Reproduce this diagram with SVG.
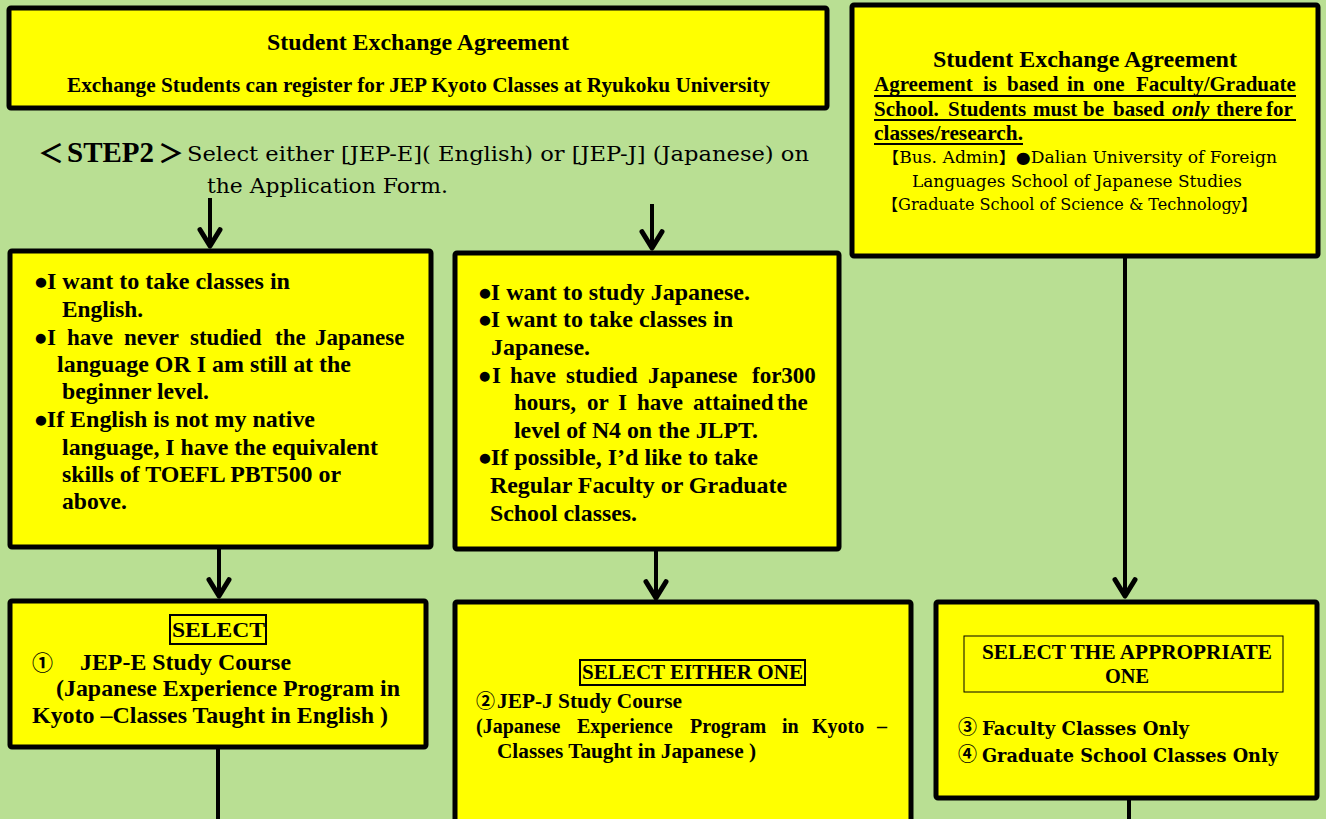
<svg xmlns="http://www.w3.org/2000/svg" width="1326" height="819" viewBox="0 0 1326 819">
<style>
.box{fill:#FFFF00;stroke:#000;stroke-width:5;stroke-linejoin:round}
.ibox{fill:none;stroke:#000;stroke-width:2}
.ibox1{fill:none;stroke:#000;stroke-width:1}
.b{font-family:"Liberation Serif",serif;font-weight:bold;fill:#000}
.c{font-family:"DejaVu Serif","Noto Sans CJK JP",serif;fill:#000}
.cj{font-family:"Noto Sans CJK JP",sans-serif;fill:#000}
.bul{font-family:"DejaVu Sans",sans-serif;font-size:13px;baseline-shift:3px}
.ul{stroke:#000;stroke-width:1.8}
.con{stroke:#000;stroke-width:4;fill:none}
</style>
<defs>
<marker id="ah" markerUnits="userSpaceOnUse" markerWidth="30" markerHeight="30" refX="0" refY="0" viewBox="-16 -12 20 24" orient="auto" overflow="visible">
<path d="M-13,-8 L0,0 L-13,8" fill="none" stroke="#000" stroke-width="4" stroke-linecap="round" stroke-linejoin="round"/>
</marker>
</defs>
<rect width="1326" height="819" fill="#B9DF93"/>

<g id="connectors">
<line class="con" x1="210" y1="198" x2="210" y2="246" marker-end="url(#ah)"/>
<line class="con" x1="652" y1="204" x2="652" y2="248" marker-end="url(#ah)"/>
<line class="con" x1="1125" y1="256" x2="1125" y2="596" marker-end="url(#ah)"/>
<line class="con" x1="219" y1="548" x2="219" y2="596" marker-end="url(#ah)"/>
<line class="con" x1="656" y1="550" x2="656" y2="598" marker-end="url(#ah)"/>
<line class="con" x1="218" y1="748" x2="218" y2="819"/>
<line class="con" x1="1129" y1="798" x2="1129" y2="819"/>
</g>

<g id="top-agreement">
<rect class="box" x="9" y="8" width="818" height="100" rx="2"/>
<text class="b" x="267" y="50" font-size="24" textLength="302" lengthAdjust="spacingAndGlyphs">Student Exchange Agreement</text>
<text class="b" x="67" y="92" font-size="20" textLength="703" lengthAdjust="spacingAndGlyphs">Exchange Students can register for JEP Kyoto Classes at Ryukoku University</text>
</g>

<g id="step2">
<text class="b" y="162"><tspan class="cj" x="38" dy="1" font-size="26">＜</tspan><tspan x="67" dy="-1" font-size="29">STEP2</tspan><tspan class="cj" x="158" dy="1" font-size="26">＞</tspan></text>
<text class="c" x="187" y="161" font-size="20" textLength="622" lengthAdjust="spacingAndGlyphs">Select either [JEP-E]( English) or [JEP-J] (Japanese) on</text>
<text class="c" x="207" y="193" font-size="20" textLength="241" lengthAdjust="spacingAndGlyphs">the Application Form.</text>
</g>

<g id="right-agreement">
<rect class="box" x="852" y="5" width="466" height="251" rx="2"/>
<text class="b" x="933" y="67" font-size="24" textLength="304" lengthAdjust="spacingAndGlyphs">Student Exchange Agreement</text>
<text class="b" y="91" font-size="21"><tspan x="874">Agreement</tspan><tspan x="983">is</tspan><tspan x="1007">based</tspan><tspan x="1067">in</tspan><tspan x="1093">one</tspan><tspan x="1136">Faculty/Graduate</tspan></text>
<text class="b" y="116" font-size="21"><tspan x="874">School.</tspan><tspan x="948">Students</tspan><tspan x="1033">must</tspan><tspan x="1083">be</tspan><tspan x="1113">based</tspan><tspan x="1172" font-style="italic">only</tspan><tspan x="1216">there</tspan><tspan x="1266">for</tspan></text>
<text class="b" x="874" y="140" font-size="21" textLength="149" lengthAdjust="spacingAndGlyphs">classes/research.</text>
<line class="ul" x1="874" y1="96" x2="1296" y2="96"/>
<line class="ul" x1="874" y1="120" x2="1296" y2="120"/>
<line class="ul" x1="874" y1="144" x2="1023" y2="144"/>
<text class="c" x="882" y="163" font-size="16" textLength="395" lengthAdjust="spacingAndGlyphs">【Bus. Admin】●Dalian University of Foreign</text>
<text class="c" x="912" y="187" font-size="16" textLength="330" lengthAdjust="spacingAndGlyphs">Languages School of Japanese Studies</text>
<text class="c" x="882" y="210" font-size="16" textLength="375" lengthAdjust="spacingAndGlyphs">【Graduate School of Science &amp; Technology】</text>
</g>

<g id="jep-e-criteria">
<rect class="box" x="10" y="251" width="421" height="296" rx="2"/>
<g class="b" font-size="23">
<text x="35" y="289" textLength="255" lengthAdjust="spacingAndGlyphs"><tspan class="bul">●</tspan>I want to take classes in</text>
<text x="62" y="317" textLength="81" lengthAdjust="spacingAndGlyphs">English.</text>
<text y="345"><tspan class="bul" x="35">●</tspan><tspan x="47">I</tspan><tspan x="67">have</tspan><tspan x="124">never</tspan><tspan x="190">studied</tspan><tspan x="275">the</tspan><tspan x="315">Japanese</tspan></text>
<text x="57" y="372" textLength="294" lengthAdjust="spacingAndGlyphs">language OR I am still at the</text>
<text x="62" y="399" textLength="147" lengthAdjust="spacingAndGlyphs">beginner level.</text>
<text x="35" y="427" textLength="280" lengthAdjust="spacingAndGlyphs"><tspan class="bul">●</tspan>If English is not my native</text>
<text x="62" y="455" textLength="316" lengthAdjust="spacingAndGlyphs">language, I have the equivalent</text>
<text x="62" y="482" textLength="279" lengthAdjust="spacingAndGlyphs">skills of TOEFL PBT500 or</text>
<text x="62" y="509" textLength="65" lengthAdjust="spacingAndGlyphs">above.</text>
</g>
</g>

<g id="jep-j-criteria">
<rect class="box" x="455" y="253" width="384" height="296" rx="2"/>
<g class="b" font-size="23">
<text x="479" y="300" textLength="271" lengthAdjust="spacingAndGlyphs"><tspan class="bul">●</tspan>I want to study Japanese.</text>
<text x="479" y="327" textLength="254" lengthAdjust="spacingAndGlyphs"><tspan class="bul">●</tspan>I want to take classes in</text>
<text x="491" y="355" textLength="99" lengthAdjust="spacingAndGlyphs">Japanese.</text>
<text y="383"><tspan class="bul" x="479">●</tspan><tspan x="492">I</tspan><tspan x="510">have</tspan><tspan x="566">studied</tspan><tspan x="648">Japanese</tspan><tspan x="752">for300</tspan></text>
<text y="410"><tspan x="514">hours,</tspan><tspan x="587">or</tspan><tspan x="618">I</tspan><tspan x="637">have</tspan><tspan x="693">attained</tspan><tspan x="777">the</tspan></text>
<text x="514" y="438" textLength="244" lengthAdjust="spacingAndGlyphs">level of N4 on the JLPT.</text>
<text x="479" y="465" textLength="279" lengthAdjust="spacingAndGlyphs"><tspan class="bul">●</tspan>If possible, I’d like to take</text>
<text x="490" y="493" textLength="297" lengthAdjust="spacingAndGlyphs">Regular Faculty or Graduate</text>
<text x="490" y="521" textLength="147" lengthAdjust="spacingAndGlyphs">School classes.</text>
</g>
</g>

<g id="jep-e-course">
<rect class="box" x="10" y="601" width="416" height="146" rx="2"/>
<rect class="ibox" x="170" y="615" width="96" height="29"/>
<text class="b" x="172" y="637" font-size="22" textLength="93" lengthAdjust="spacingAndGlyphs">SELECT</text>
<text class="cj" x="32" y="670" font-size="21" font-weight="bold">①</text>
<text class="b" x="80" y="670" font-size="23" textLength="211" lengthAdjust="spacingAndGlyphs">JEP-E Study Course</text>
<text class="b" x="56" y="696" font-size="23" textLength="344" lengthAdjust="spacingAndGlyphs">(Japanese Experience Program in</text>
<text class="b" x="32" y="723" font-size="23" textLength="356" lengthAdjust="spacingAndGlyphs">Kyoto –Classes Taught in English )</text>
</g>

<g id="jep-j-course">
<rect class="box" x="455" y="602" width="456" height="222" rx="2"/>
<rect class="ibox" x="580" y="660" width="225" height="25"/>
<text class="b" x="582" y="679" font-size="21" textLength="221" lengthAdjust="spacingAndGlyphs">SELECT EITHER ONE</text>
<text class="cj" x="476" y="708" font-size="19" font-weight="bold">②</text>
<text class="b" x="497" y="708" font-size="21" textLength="185" lengthAdjust="spacingAndGlyphs">JEP-J Study Course</text>
<text class="b" y="733" font-size="20"><tspan x="476">(Japanese</tspan><tspan x="577">Experience</tspan><tspan x="690">Program</tspan><tspan x="782">in</tspan><tspan x="812">Kyoto</tspan><tspan x="877">–</tspan></text>
<text class="b" x="497" y="758" font-size="20" textLength="259" lengthAdjust="spacingAndGlyphs">Classes Taught in Japanese )</text>
</g>

<g id="faculty-course">
<rect class="box" x="936" y="602" width="381" height="196" rx="2"/>
<rect class="ibox1" x="964" y="636" width="319" height="56"/>
<text class="b" x="982" y="659" font-size="21" textLength="290" lengthAdjust="spacingAndGlyphs">SELECT THE APPROPRIATE</text>
<text class="b" x="1105" y="683" font-size="21" textLength="44" lengthAdjust="spacingAndGlyphs">ONE</text>
<text class="cj" x="958" y="734" font-size="19" font-weight="bold">③</text>
<text class="c" x="982" y="735" font-size="19" font-weight="bold" textLength="207" lengthAdjust="spacingAndGlyphs">Faculty Classes Only</text>
<text class="cj" x="958" y="761" font-size="19" font-weight="bold">④</text>
<text class="c" x="982" y="762" font-size="19" font-weight="bold" textLength="296" lengthAdjust="spacingAndGlyphs">Graduate School Classes Only</text>
</g>
</svg>
